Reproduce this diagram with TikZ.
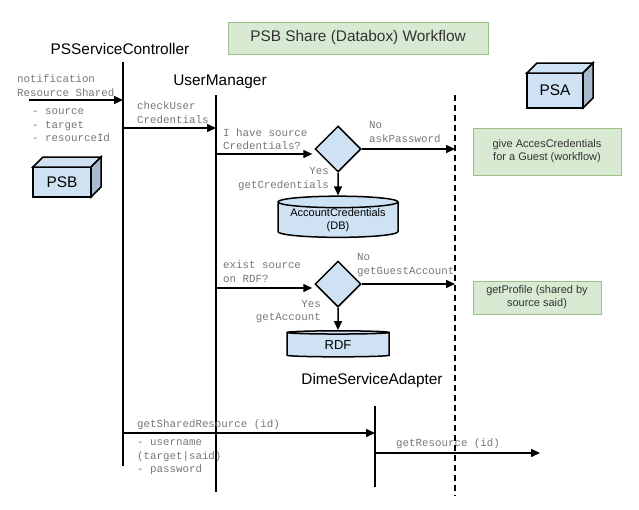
\documentclass[tikz,border=0pt]{standalone}
\usepackage{fontspec}
\setmainfont{Liberation Sans}
\newfontfamily\monofont{Liberation Mono}
\usepackage{tikz}
\usetikzlibrary{calc}
\usetikzlibrary{arrows.meta}
\usetikzlibrary{shapes.geometric}
\definecolor{boxblue}{HTML}{CFE2F3}
\definecolor{boxside}{HTML}{A7B9CC}
\definecolor{notegreen}{HTML}{D9EAD3}
\definecolor{noteline}{HTML}{9CC188}
\definecolor{labelgray}{HTML}{767676}
\tikzset{
	lifeline/.style={line width=1.5pt},
	msg/.style={line width=1.5pt,-{Triangle[length=9pt,width=8pt]}},
	msglabel/.style={font=\monofont\fontsize{10.8}{13.4}\selectfont,text=labelgray,align=left,inner sep=0pt},
	heading/.style={font=\fontsize{15.4}{18}\selectfont,inner sep=0pt},
	note/.style={draw=noteline,fill=notegreen,line width=0.8pt,align=center,text=black!80,font=\fontsize{11}{13}\selectfont,inner sep=0pt},
	decision/.style={diamond,draw,fill=boxblue,line width=1.5pt,minimum width=46pt,minimum height=46pt,inner sep=0pt},
	store/.style={cylinder,shape border rotate=90,aspect=0.12,draw,fill=boxblue,line width=1.5pt,inner sep=0pt,align=center,font=\fontsize{11}{13}\selectfont},
	cube/.style={draw,fill=boxblue,line width=1.5pt,outer sep=0pt,font=\fontsize{15.4}{18}\selectfont}
}
\begin{document}
\begin{tikzpicture}[x=1pt,y=-1pt]
	\useasboundingbox (0,0) rectangle (639,509);
	\node[note,minimum width=260pt,minimum height=32pt,font=\fontsize{15.4}{18}\selectfont] (title) at (358,38) {PSB Share (Databox) Workflow};
	\node[heading] (psc) at (120,49) {PSServiceController};
	\node[heading] (um) at (220,82) {UserManager};
	\node[heading] (dsa) at (372,381) {DimeServiceAdapter};
	\coordinate (pscT) at (123,62);
	\coordinate (pscB) at (123,466);
	\coordinate (umT) at (216,95);
	\coordinate (umB) at (216,492);
	\coordinate (dsaT) at (375,406);
	\coordinate (dsaB) at (375,487);
	\coordinate (psaT) at (455,95);
	\coordinate (psaB) at (455,496);
	\draw[lifeline] (pscT) -- (pscB);
	\draw[lifeline] (umT) -- (umB);
	\draw[lifeline] (dsaT) -- (dsaB);
	\draw[lifeline,dash pattern=on 6pt off 4pt] (psaT) -- (psaB);
	\node[cube,minimum width=58pt,minimum height=30pt] (psb) at (62,182) {PSB};
	\draw[cube] (psb.north west) -- ++(10,-10) -- ([shift={(10pt,10pt)}]psb.north east) -- (psb.north east) -- cycle;
	\draw[cube,fill=boxside] (psb.north east) -- ++(10,-10) -- ([shift={(10pt,10pt)}]psb.south east) -- (psb.south east) -- cycle;
	\node[cube,minimum width=56pt,minimum height=35pt] (psa) at (555,90.5) {PSA};
	\draw[cube] (psa.north west) -- ++(10,-10) -- ([shift={(10pt,10pt)}]psa.north east) -- (psa.north east) -- cycle;
	\draw[cube,fill=boxside] (psa.north east) -- ++(10,-10) -- ([shift={(10pt,10pt)}]psa.south east) -- (psa.south east) -- cycle;
	\coordinate (notifS) at (29,100);
	\draw[msg] (notifS) -- (notifS -| pscT);
	\node[msglabel,anchor=west] (notifL) at (17,85.5) {notification\\Resource Shared};
	\node[msglabel,anchor=west] (paramL) at (32,125.5) {- source\\- target\\- resourceId};
	\coordinate (chkS) at (123,128);
	\draw[msg] (chkS) -- (chkS -| umT);
	\node[msglabel,anchor=west] (chkL) at (137,112.5) {checkUser\\Credentials};
	\node[decision] (askcred) at (338,149) {};
	\coordinate (askcredIn) at ([shift={(-2pt,-5pt)}]askcred.west);
	\draw[msg] (umT |- askcredIn) -- (askcredIn);
	\draw[msg] (askcred.east) -- (askcred.east -| psaT);
	\node[msglabel,anchor=west] (askcredQ) at (223,139) {I have source\\Credentials?};
	\node[msglabel,anchor=west] (askcredNo) at (369,132) {No\\askPassword};
	\node[msglabel,anchor=east,align=right] (askcredYes) at (329,179) {Yes\\getCredentials};
	\node[store,minimum width=120pt,minimum height=40pt] (acccred) at (338,220) {AccountCredentials\\(DB)};
	\draw[msg] (askcred.south) -- (acccred.north);
	\node[note,minimum width=148pt,minimum height=47pt] (guest) at (547,151.5) {give AccesCredentials\\for a Guest (workflow)};
	\node[decision] (rdfcheck) at (338,284) {};
	\coordinate (rdfcheckIn) at ([shift={(-2pt,-4pt)}]rdfcheck.west);
	\draw[msg] (umT |- rdfcheckIn) -- (rdfcheckIn);
	\draw[msg] (rdfcheck.east) -- (rdfcheck.east -| psaT);
	\node[msglabel,anchor=west] (rdfQ) at (223,271.5) {exist source\\on RDF?};
	\node[msglabel,anchor=west] (rdfNo) at (357,265) {No\\getGuestAccount};
	\node[msglabel,anchor=east,align=right] (rdfYes) at (321,311.5) {Yes\\getAccount};
	\node[store,minimum width=102pt,minimum height=26pt,font=\fontsize{13}{15}\selectfont] (rdf) at (338,345) {RDF};
	\draw[msg] (rdfcheck.south) -- (rdf.north);
	\node[note,minimum width=128pt,minimum height=33pt] (profile) at (537,297.5) {getProfile (shared by\\source said)};
	\coordinate (shrS) at (123,433);
	\draw[msg] (shrS) -- (shrS -| dsaT);
	\node[msglabel,anchor=west] (shrL) at (137,425) {getSharedResource (id)};
	\node[msglabel,anchor=west] (credL) at (137,457.5) {- username\\(target|said)\\- password};
	\coordinate (resS) at (375,453);
	\coordinate (resE) at (540,453);
	\draw[msg] (resS) -- (resE);
	\node[msglabel,anchor=west] (resL) at (396,444) {getResource (id)};
\end{tikzpicture}
\end{document}
